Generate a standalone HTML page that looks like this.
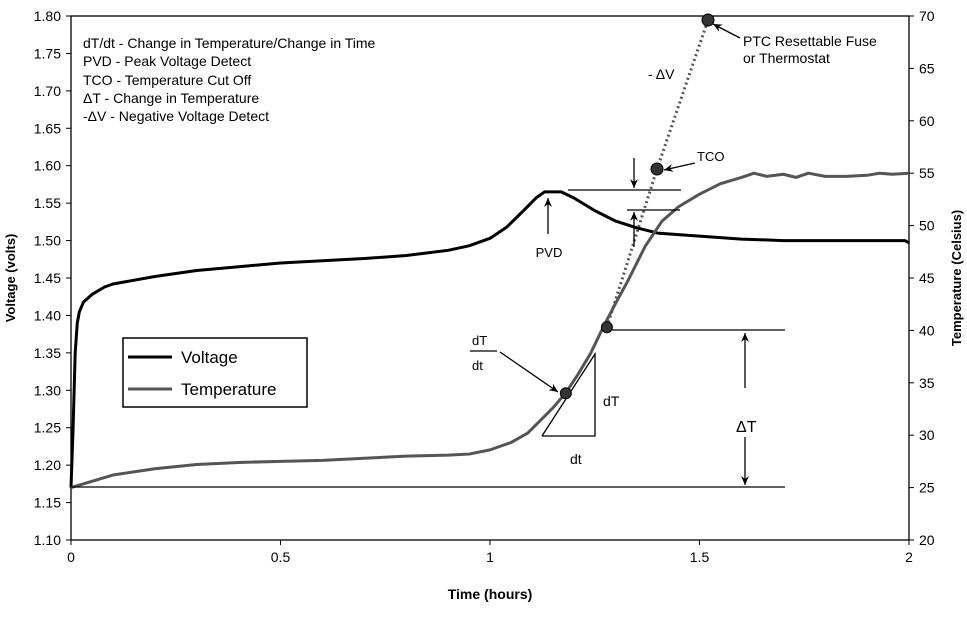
<!DOCTYPE html>
<html><head><meta charset="utf-8"><style>
body{margin:0;background:#fff;width:967px;height:613px;overflow:hidden}
svg{font-family:"Liberation Sans",sans-serif}
</style></head><body>
<svg id="chart" width="967" height="613" viewBox="0 0 967 613">
<defs><marker id="ah" markerWidth="10" markerHeight="10" refX="9" refY="5" orient="auto" markerUnits="userSpaceOnUse"><path d="M0,1 L9,5 L0,9 L3,5 Z" fill="#000"/></marker></defs>
<g id="axes"></g>
<g id="series"></g>
<g id="annot" font-size="13">
<text x="83" y="48" font-size="14">dT/dt - Change in Temperature/Change in Time</text>
<text x="83" y="66" font-size="14">PVD - Peak Voltage Detect</text>
<text x="83" y="85" font-size="14">TCO - Temperature Cut Off</text>
<text x="83" y="103" font-size="14">ΔT - Change in Temperature</text>
<text x="83" y="121" font-size="14">-ΔV - Negative Voltage Detect</text>
</g>
<text transform="translate(15,278) rotate(-90)" text-anchor="middle" font-size="13" font-weight="bold">Voltage (volts)</text>
<text transform="translate(961,278) rotate(-90)" text-anchor="middle" font-size="13" font-weight="bold">Temperature (Celsius)</text>
<text x="490" y="599" text-anchor="middle" font-size="14" font-weight="bold">Time (hours)</text>
<g>
<rect x="123" y="338" width="184" height="69" fill="#fff" stroke="#000" stroke-width="1.5"/>
<line x1="128" y1="357" x2="172" y2="357" stroke="#000" stroke-width="3"/>
<text x="181" y="363" font-size="17">Voltage</text>
<line x1="128" y1="389" x2="172" y2="389" stroke="#555" stroke-width="3"/>
<text x="181" y="395" font-size="17">Temperature</text>
</g>
</svg>
<script>
const xTicks=[0,0.5,1,1.5,2];
const xTickLabels=["0","0.5","1","1.5","2"];
const vTicks=[1.10,1.15,1.20,1.25,1.30,1.35,1.40,1.45,1.50,1.55,1.60,1.65,1.70,1.75,1.80];
const tTicks=[20,25,30,35,40,45,50,55,60,65,70];
const timeV=[0,0.005,0.01,0.015,0.02,0.03,0.05,0.08,0.1,0.2,0.3,0.4,0.5,0.6,0.7,0.8,0.9,0.95,1.0,1.04,1.08,1.11,1.13,1.17,1.2,1.25,1.3,1.35,1.4,1.5,1.6,1.7,1.8,1.9,1.99,2.0];
const voltage=[1.17,1.25,1.35,1.39,1.405,1.418,1.428,1.438,1.442,1.452,1.46,1.465,1.47,1.473,1.476,1.48,1.487,1.493,1.503,1.518,1.54,1.557,1.565,1.565,1.557,1.54,1.526,1.517,1.51,1.506,1.502,1.5,1.5,1.5,1.5,1.497];
const timeT=[0,0.05,0.1,0.2,0.3,0.4,0.5,0.6,0.7,0.8,0.9,0.95,1.0,1.05,1.09,1.12,1.15,1.18,1.21,1.24,1.27,1.3,1.33,1.37,1.41,1.45,1.5,1.55,1.6,1.63,1.66,1.7,1.73,1.76,1.8,1.85,1.9,1.93,1.96,2.0];
const temperature=[25,25.6,26.2,26.8,27.2,27.4,27.5,27.6,27.8,28,28.1,28.2,28.6,29.3,30.2,31.4,32.6,34,35.8,37.8,40.3,42.6,44.8,48,50.4,51.8,53,54,54.6,55,54.7,54.9,54.6,55,54.7,54.7,54.8,55,54.9,55];
const markerTimes=[1.181,1.279];
const markerTemps=[34,40.3];
const L=71,R=909,T=16,B=540;
const xs=t=>L+(t-0)/(2-0)*(R-L);
const yv=v=>B-(v-1.10)/(1.80-1.10)*(B-T);
const yt=c=>B-(c-20)/(70-20)*(B-T);
const NS="http://www.w3.org/2000/svg";
function mk(p,tag,at){const e=document.createElementNS(NS,tag);for(const k in at)e.setAttribute(k,at[k]);p.appendChild(e);return e;}
const ax=document.getElementById('axes');
let e=mk(ax,'rect',{x:L,y:T,width:R-L,height:B-T,fill:'none',stroke:'#000','stroke-width':1.3});


xTicks.forEach((t,i)=>{
 mk(ax,'line',{x1:xs(t),y1:B,x2:xs(t),y2:B+5,stroke:'#000'});
 const tx=mk(ax,'text',{x:xs(t),y:B+22,'text-anchor':'middle','font-size':14});
 tx.textContent=xTickLabels[i];
 
 
});
vTicks.forEach(v=>{
 mk(ax,'line',{x1:L-5,y1:yv(v),x2:L,y2:yv(v),stroke:'#000'});
 const tx=mk(ax,'text',{x:L-10,y:yv(v)+5,'text-anchor':'end','font-size':14});
 tx.textContent=v.toFixed(2);
 
 
});
tTicks.forEach(c=>{
 mk(ax,'line',{x1:R,y1:yt(c),x2:R+5,y2:yt(c),stroke:'#000'});
 const tx=mk(ax,'text',{x:R+10,y:yt(c)+5,'font-size':14});
 tx.textContent=c;
 
 
});
const sg=document.getElementById('series');
let p=mk(sg,'polyline',{points:timeV.map((t,i)=>xs(t)+','+yv(voltage[i])).join(' '),fill:'none',stroke:'#000','stroke-width':3,'stroke-linejoin':'round'});


p=mk(sg,'polyline',{points:timeT.map((t,i)=>xs(t)+','+yt(temperature[i])).join(' '),fill:'none',stroke:'#555','stroke-width':3,'stroke-linejoin':'round'});


const an=document.getElementById('annot');
function ln(x1,y1,x2,y2,arrow,name,st){const l=mk(an,'line',{x1,y1,x2,y2,stroke:st||'#000','stroke-width':1.3});if(arrow)l.setAttribute('marker-end','url(#ah)');return l;}
const d=mk(an,'polyline',{points:'607,327 657,169 708,20',fill:'none',stroke:'#555','stroke-width':3,'stroke-dasharray':'2,3'});


ln(607,330,785,330,false,'delta-t-top-line');
ln(71,487,785,487,false,'delta-t-base-line');
ln(745,388,745,333,true,'delta-t-up-arrow');
ln(745,437,745,485,true,'delta-t-down-arrow');
ln(568,190,681,190,false,'pvd-level-line');
ln(627,210,680,210,false,'pvd-drop-line');
ln(634,158,634,188,true,'drop-down-arrow');
ln(634,247,634,212,true,'drop-up-arrow');
ln(548,234,548,198,true,'pvd-arrow');
ln(500,352,558,392,true,'dtdt-arrow');
ln(695,163,664,170,true,'tco-arrow');
ln(740,38,713,24,true,'ptc-arrow');
const tri=mk(an,'polyline',{points:'542,436 595,436 595,354 542,436',fill:'none',stroke:'#000','stroke-width':1.3});


markerTimes.forEach((t,i)=>{const c=mk(an,'circle',{cx:xs(t),cy:yt(markerTemps[i]),r:5.5,fill:'#333',stroke:'#000'});
 
 });
[[657,169],[708,20]].forEach(q=>{const c=mk(an,'circle',{cx:q[0],cy:q[1],r:6,fill:'#333',stroke:'#000'});
 
 });
function tx(x,y,s,name,fs,anchor){const t=mk(an,'text',{x,y,'font-size':fs||13,'text-anchor':anchor||'start'});t.textContent=s;return t;}
tx(549,257,'PVD','pvd-label',13,'middle');
tx(697,161,'TCO','tco-label');
tx(743,46,'PTC Resettable Fuse','ptc-label',14);
tx(743,63,'or Thermostat','ptc-label-2',14);
tx(648,79,'- ΔV','delta-v-label',14);
tx(736,432,'ΔT','delta-t-label',16);
tx(603,406,'dT','triangle-dt-label',14);
tx(570,464,'dt','triangle-time-label',14);
tx(472,345,'dT','dtdt-num',13);
tx(472,370,'dt','dtdt-den',13);
ln(470,351,497,351,false,'dtdt-fraction-bar');
</script>
</body></html>
